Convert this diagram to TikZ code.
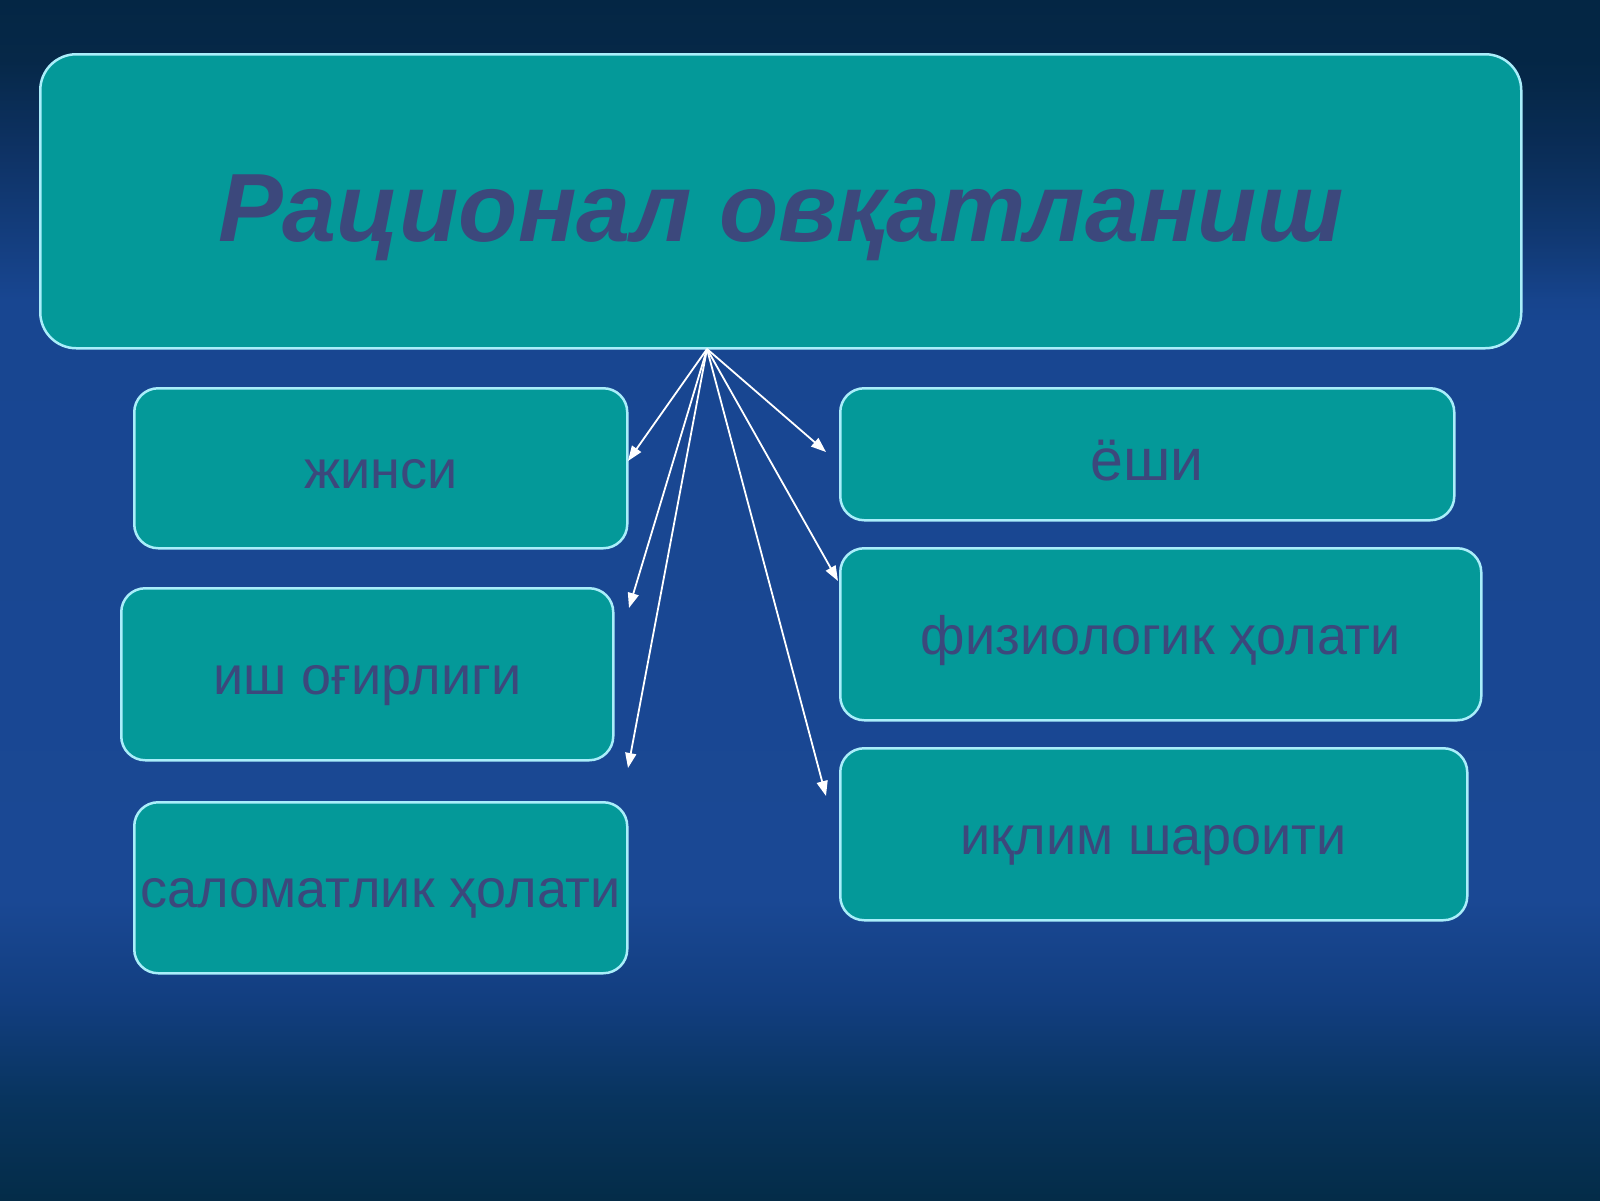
\documentclass[tikz,border=0pt]{standalone}
\usepackage{fontspec}
\setmainfont{Liberation Sans}
\usetikzlibrary{arrows.meta,fadings}
\definecolor{boxfill}{RGB}{4,153,153}
\definecolor{boxedge}{RGB}{170,238,250}
\definecolor{txt}{RGB}{60,72,124}
\definecolor{bg0}{RGB}{4,44,72}
\definecolor{bg1}{RGB}{8,52,94}
\definecolor{bg2}{RGB}{18,62,128}
\definecolor{bg3}{RGB}{26,72,148}
\definecolor{bg4}{RGB}{24,70,145}
\definecolor{bg5}{RGB}{14,50,100}
\definecolor{bg6}{RGB}{6,40,72}
\definecolor{bg7}{RGB}{4,38,68}
% path box maps to 25bp (bottom, y=1200) .. 75bp (top, y=0)
\pgfdeclareverticalshading{bgshade}{100bp}{color(0bp)=(bg0); color(25bp)=(bg0); color(29.17bp)=(bg1); color(33.33bp)=(bg2); color(37.5bp)=(bg3); color(62.5bp)=(bg4); color(68.75bp)=(bg5); color(72.5bp)=(bg6); color(75bp)=(bg7); color(100bp)=(bg7)}
\tikzset{
  box/.style={draw=boxedge, line width=2.5pt, fill=boxfill, rounded corners=24pt, anchor=north west, inner sep=0pt, text=txt, font=\fontsize{54}{60}\selectfont, text height=40pt, text depth=0pt},
  titlebox/.style={box, rounded corners=36pt, font=\fontsize{97}{110}\selectfont\bfseries\itshape, text height=80pt, text depth=0pt},
  arr/.style={draw=white, line width=1.8pt, -{Triangle[length=15pt,width=11pt]}}
}
\begin{document}
\begin{tikzpicture}[x=1pt,y=-1pt]
\useasboundingbox (0,0) rectangle (1600,1200);
\fill[shading=bgshade] (0,0) rectangle (1600,1200);
\fill[bg7, opacity=0.7, path fading=south] (1480,0) rectangle (1600,320);
\node[titlebox, minimum width=1481pt, minimum height=294pt] (top) at (39,53) {Рационал овқатланиш};
\node[box, minimum width=493pt, minimum height=160pt] (jinsi) at (133,387) {жинси};
\node[box, minimum width=492pt, minimum height=172pt] (ish) at (120,587) {иш оғирлиги};
\node[box, minimum width=493pt, minimum height=171pt] (salom) at (133,801) {саломатлик ҳолати};
\node[box, minimum width=614pt, minimum height=132pt, font=\fontsize{59}{64}\selectfont, text height=52pt] (yoshi) at (839,387) {ёши};
\node[box, minimum width=641pt, minimum height=172pt] (fiz) at (839,547) {физиологик ҳолати};
\node[box, minimum width=627pt, minimum height=172pt] (iqlim) at (839,747) {иқлим шароити};
\coordinate (apex) at (707,349);
\coordinate (t1) at (628,461);
\coordinate (t2) at (629,608);
\coordinate (t3) at (628,768);
\coordinate (t4) at (826,452);
\coordinate (t5) at (838,581);
\coordinate (t6) at (826,796);
\foreach \t in {t1,t2,t3,t4,t5,t6} \draw[arr] (apex) -- (\t);
\end{tikzpicture}
\end{document}
